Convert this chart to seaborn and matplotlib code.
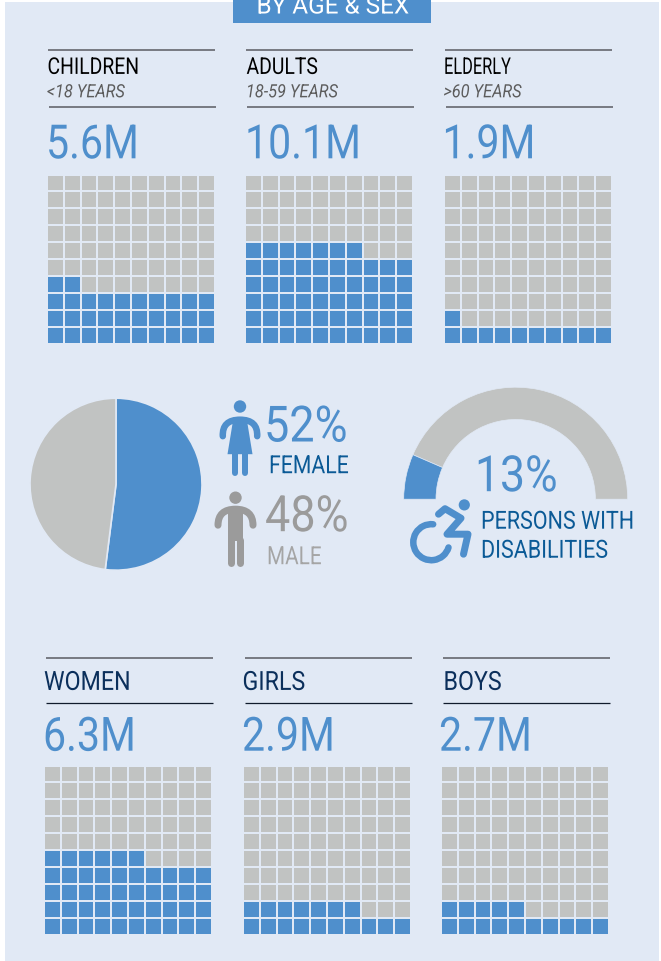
import numpy as np
import matplotlib
matplotlib.use("Agg")
import matplotlib.pyplot as plt
import matplotlib.patheffects as pe
from matplotlib.colors import ListedColormap
from matplotlib.patches import Rectangle, Circle, Polygon, PathPatch, Arc
from matplotlib.path import Path
from matplotlib.transforms import Affine2D
import seaborn as sns

W, H = 661, 962
BLUE, GREY, PANEL = "#4F8FCC", "#C1C3C2", "#E1E9F5"
DY = 0.7  # small global vertical nudge, in pixels

# ---- data -------------------------------------------------------------
age_groups = ["CHILDREN", "ADULTS", "ELDERLY"]
age_ranges = ["<18 YEARS", "18-59 YEARS", ">60 YEARS"]
age_labels = ["5.6M", "10.1M", "1.9M"]
age_cells = [32, 57, 11]
sex_groups = ["WOMEN", "GIRLS", "BOYS"]
sex_labels = ["6.3M", "2.9M", "2.7M"]
sex_cells = [46, 17, 15]
gender_share = [52, 48]
disability_share = [13, 87]

# ---- fonts ------------------------------------------------------------
sns.set_theme(style="white")
plt.rcParams["font.family"] = ["Roboto", "DejaVu Sans"]

fig = plt.figure(figsize=(W / 100, H / 100), dpi=100, facecolor="white")


def px_axes(x0, y0, x1, y1, **kw):
    """Axes placed by reference pixel box (y measured from the top)."""
    return fig.add_axes([x0 / W, 1 - (y1 + DY) / H, (x1 - x0) / W, (y1 - y0) / H], **kw)


class Condense(pe.AbstractPathEffect):
    """Narrows a real text artist horizontally about its origin."""

    def __init__(self, sx):
        super().__init__()
        self.sx = sx

    def draw_path(self, renderer, gc, tpath, affine, rgbFace=None):
        renderer.draw_path(gc, tpath, Affine2D().scale(self.sx, 1) + affine, rgbFace)


# pixel overlay used for panel, rules, text and icons
bg = px_axes(0, -2, W, H + 2)
bg.set_xlim(0, W)
bg.set_ylim(H + 2, -2)
bg.axis("off")
bg.add_patch(Rectangle((5, 2.3), 654, H, color=PANEL, lw=0))
bg.add_patch(Rectangle((233, -3), 198, 26.3, color=BLUE, lw=0))


def label(x, y, s, size, color, sx=0.87, **kw):
    t = bg.text(x, y, s, fontsize=size, color=color, va="baseline", ha="left", **kw)
    t.set_path_effects([Condense(sx)])
    return t


def rule(x0, x1, y, color="#5A5B62", lw=1.1):
    bg.plot([x0, x1], [y, y], color=color, lw=lw, solid_capstyle="butt")


def waffle(x0, y0, count):
    cells = np.arange(100).reshape(10, 10)[::-1]  # filled from the bottom row upward
    mask = (cells < count).astype(int)
    ax = px_axes(x0 - 0.8, y0 - 0.8, x0 + 166.8, y0 + 168.4)
    sns.heatmap(mask, ax=ax, cmap=ListedColormap([GREY, BLUE]), vmin=0, vmax=1,
                cbar=False, linewidths=1.2, linecolor=PANEL, square=False,
                xticklabels=False, yticklabels=False)


label(256.5, 13.8, "BY AGE & SEX", 17.5, "white", sx=1.0)

# ---- top row ----------------------------------------------------------
tx = [47.5, 246.5, 444]
gx = [48, 246, 445]
title_sx = [0.84, 0.84, 0.71]
for i in range(3):
    rule(gx[i], gx[i] + 167, 49.8)
    rule(gx[i] + 1, gx[i] + 168, 107.6)
    label(tx[i], 74.2, age_groups[i], 16.6, "black", sx=title_sx[i])
    label(tx[i] - 0.5, 97.6, age_ranges[i], 13.2, "#5C5C5C", sx=0.89, style="italic")
    label(tx[i] - 1.5, 158.6, age_labels[i], 34, BLUE)
    waffle(gx[i], 175.6, age_cells[i])

# ---- bottom row -------------------------------------------------------
tx2 = [44, 242.5, 443.5]
vx2 = [43, 242, 439]
gx2 = [45, 244, 442]
for i in range(3):
    rule(gx2[i] + 1, gx2[i] + 168, 658.6)
    rule(gx2[i] + 1, gx2[i] + 168, 703.2, color="#101B2C", lw=0.9)
    label(tx2[i], 690.2, sex_groups[i], 19, "#0B2F5B", sx=0.88)
    label(vx2[i], 751, sex_labels[i], 34, BLUE)
    waffle(gx2[i], 766.6, sex_cells[i])

# ---- pie --------------------------------------------------------------
pie_ax = px_axes(30, 398.5, 202, 570.5)
pie_ax.pie(gender_share, colors=[BLUE, GREY], startangle=90, counterclock=False,
           radius=1.0, wedgeprops=dict(edgecolor=PANEL, linewidth=1.2))
pie_ax.set_xlim(-1.0, 1.0)
pie_ax.set_ylim(-1.0, 1.0)

label(264, 441.8, f"{gender_share[0]}%", 36, BLUE, sx=0.90)
label(269, 473.5, "FEMALE", 18, "#0B5A96", sx=0.85)
label(265, 531.5, f"{gender_share[1]}%", 36, "#9B9B9B", sx=0.90)
label(267, 564.5, "MALE", 18, "#A5A5A5", sx=0.83)


def stroke(pts, lw, color, codes=None):
    path = Path(pts, codes) if codes else Path(pts)
    bg.add_patch(PathPatch(path, fc="none", ec=color, lw=lw * 0.72,
                           capstyle="round", joinstyle="round"))


# female icon
c = BLUE
bg.add_patch(Circle((240, 406.8), 6.2, color=c, lw=0))
stroke([(222.8, 436.5), (222, 420), (240, 420), (258, 420), (257.2, 436.5)], 6.5, c,
       [Path.MOVETO, Path.CURVE3, Path.CURVE3, Path.CURVE3, Path.CURVE3])
bg.add_patch(Polygon([(233.5, 418), (246.5, 418), (252.5, 454.5), (227.5, 454.5)], color=c, lw=0))
stroke([(235.2, 453), (235.2, 473)], 6, c)
stroke([(244.7, 453), (244.7, 473)], 6, c)

# male icon
c = "#9B9B9B"
bg.add_patch(Circle((235.5, 498), 6.2, color=c, lw=0))
stroke([(218, 525.5), (218, 509.5), (235.5, 509.5), (253, 509.5), (253, 525.5)], 7, c,
       [Path.MOVETO, Path.CURVE3, Path.CURVE3, Path.CURVE3, Path.CURVE3])
bg.add_patch(Rectangle((227.8, 509.5), 15.5, 32, color=c, lw=0))
stroke([(231, 540), (231, 563.5)], 7, c)
stroke([(239.5, 540), (239.5, 563.5)], 7, c)

# ---- gauge ------------------------------------------------------------
R = 112
g_ax = px_axes(515.7 - R, 499.5 - R, 515.7 + R, 499.5 + R)
rest = sum(disability_share)
wedges, _ = g_ax.pie([disability_share[1], disability_share[0], rest],
                     colors=[GREY, BLUE, "none"], startangle=0, counterclock=True,
                     radius=1.0, wedgeprops=dict(width=1 - 79.7 / 112, lw=0))
wedges[2].set_visible(False)
g_ax.set_xlim(-1, 1)
g_ax.set_ylim(-1, 1)
for w in wedges[:2]:
    w.set_edgecolor(PANEL)
    w.set_linewidth(0.5)

label(475, 491.5, f"{disability_share[0]}%", 36, BLUE, sx=0.89)
label(481, 529, "PERSONS WITH", 18, "#0B5A96", sx=0.86)
label(481, 558, "DISABILITIES", 18, "#0B5A96", sx=0.86)

# wheelchair icon
c = BLUE
bg.add_patch(Circle((464.3, 505.2), 5.6, color=c, lw=0))
bg.add_patch(Arc((431.3, 542.5), 36, 36, theta1=17, theta2=276, color=c,
                 lw=6.5 * 0.72, capstyle="round"))
stroke([(438.5, 514.5), (445, 509), (461, 518.5), (447, 534.5), (468, 534.5), (463.5, 554.5)], 7, c)

fig.savefig("out.png", dpi=100, facecolor="white")
